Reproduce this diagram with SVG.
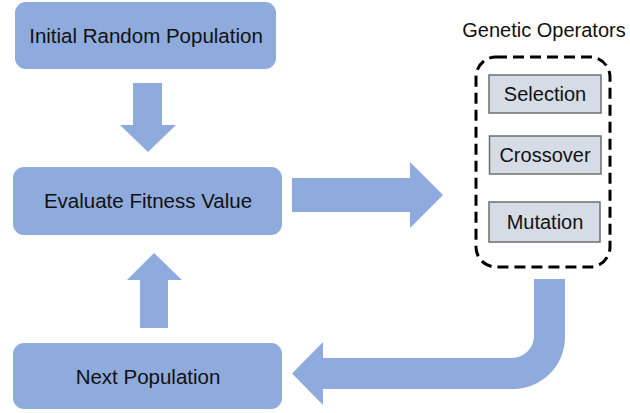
<svg xmlns="http://www.w3.org/2000/svg" width="630" height="413" viewBox="0 0 630 413">
<style>
.box{fill:#8FAADC;}
.arrow{fill:#8FAADC;}
.op{fill:#D6DCE5;stroke:#6E6E6E;stroke-width:1.5;}
text{font-family:"Liberation Sans",Arial,sans-serif;fill:#111111;text-anchor:middle;}
.t{font-size:20.5px;}
.s{font-size:20px;}
</style>
<rect width="630" height="413" fill="#FFFFFF"/>
<g id="connectors">
<path class="arrow" d="M133,83 H162 V125 H176 L148,152 L120,125 H133 Z"/>
<path class="arrow" d="M140,328 H168 V280 H182 L154,253 L127,280 H140 Z"/>
<path class="arrow" d="M292,178 H410 V162 L443,195 L410,228 V212 H292 Z"/>
<path class="arrow" d="M534,279 H565 V337 A52,52 0 0 1 513,389 H323 V405 L292,373.5 L323,342 V358 H512 A22,22 0 0 0 534,336 Z"/>
</g>
<g id="initial">
<rect class="box" x="15" y="2" width="261" height="67" rx="11"/>
<text class="t" x="146" y="43">Initial Random Population</text>
</g>
<g id="evaluate">
<rect class="box" x="13" y="167" width="269" height="68" rx="11"/>
<text class="t" x="148" y="208">Evaluate Fitness Value</text>
</g>
<g id="next">
<rect class="box" x="13" y="343" width="269" height="66" rx="11"/>
<text class="t" x="148" y="384">Next Population</text>
</g>
<g id="operators">
<text class="s" x="544" y="37">Genetic Operators</text>
<rect x="476" y="57" width="134" height="210" rx="20" fill="none" stroke="#000000" stroke-width="3" stroke-dasharray="11,6"/>
</g>
<g id="selection">
<rect class="op" x="489" y="75" width="112" height="38"/>
<text class="s" x="545" y="101">Selection</text>
</g>
<g id="crossover">
<rect class="op" x="489.5" y="136" width="111.5" height="38"/>
<text class="s" x="545" y="162">Crossover</text>
</g>
<g id="mutation">
<rect class="op" x="489" y="202" width="111" height="40"/>
<text class="s" x="545" y="229">Mutation</text>
</g>
</svg>
